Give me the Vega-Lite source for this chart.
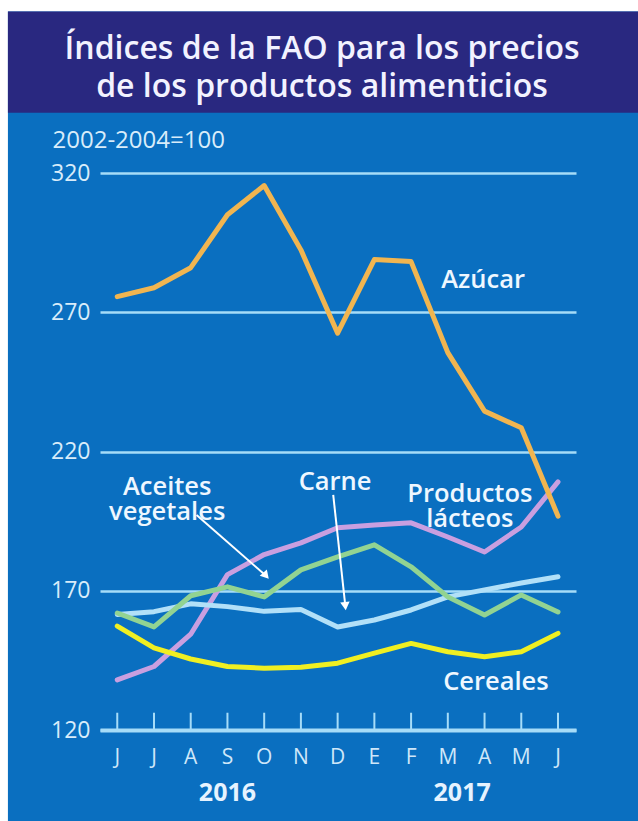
{
  "$schema": "https://vega.github.io/schema/vega-lite/v6.json",
  "width": 476,
  "height": 557,
  "autosize": "none",
  "padding": {"left": 100, "top": 173, "right": 62, "bottom": 91},
  "background": "#0a6fc0",
  "config": {"view": {"stroke": null}, "font": "Open Sans"},
  "datasets": {
    "indices": [
      {"serie": "Productos lácteos", "m": 0, "v": 138.0}, {"serie": "Productos lácteos", "m": 1, "v": 142.8}, {"serie": "Productos lácteos", "m": 2, "v": 154.4}, {"serie": "Productos lácteos", "m": 3, "v": 175.8}, {"serie": "Productos lácteos", "m": 4, "v": 183.0}, {"serie": "Productos lácteos", "m": 5, "v": 187.2}, {"serie": "Productos lácteos", "m": 6, "v": 192.6}, {"serie": "Productos lácteos", "m": 7, "v": 193.6}, {"serie": "Productos lácteos", "m": 8, "v": 194.4}, {"serie": "Productos lácteos", "m": 9, "v": 189.3}, {"serie": "Productos lácteos", "m": 10, "v": 183.9}, {"serie": "Productos lácteos", "m": 11, "v": 192.9}, {"serie": "Productos lácteos", "m": 12, "v": 209.1},
      {"serie": "Carne", "m": 0, "v": 161.5}, {"serie": "Carne", "m": 1, "v": 162.5}, {"serie": "Carne", "m": 2, "v": 165.3}, {"serie": "Carne", "m": 3, "v": 164.3}, {"serie": "Carne", "m": 4, "v": 162.6}, {"serie": "Carne", "m": 5, "v": 163.3}, {"serie": "Carne", "m": 6, "v": 157.0}, {"serie": "Carne", "m": 7, "v": 159.5}, {"serie": "Carne", "m": 8, "v": 163.1}, {"serie": "Carne", "m": 9, "v": 167.8}, {"serie": "Carne", "m": 10, "v": 170.3}, {"serie": "Carne", "m": 11, "v": 172.8}, {"serie": "Carne", "m": 12, "v": 175.0},
      {"serie": "Aceites vegetales", "m": 0, "v": 162.0}, {"serie": "Aceites vegetales", "m": 1, "v": 157.0}, {"serie": "Aceites vegetales", "m": 2, "v": 168.2}, {"serie": "Aceites vegetales", "m": 3, "v": 171.4}, {"serie": "Aceites vegetales", "m": 4, "v": 167.8}, {"serie": "Aceites vegetales", "m": 5, "v": 177.5}, {"serie": "Aceites vegetales", "m": 6, "v": 182.2}, {"serie": "Aceites vegetales", "m": 7, "v": 186.5}, {"serie": "Aceites vegetales", "m": 8, "v": 178.6}, {"serie": "Aceites vegetales", "m": 9, "v": 167.8}, {"serie": "Aceites vegetales", "m": 10, "v": 161.3}, {"serie": "Aceites vegetales", "m": 11, "v": 168.5}, {"serie": "Aceites vegetales", "m": 12, "v": 162.4},
      {"serie": "Cereales", "m": 0, "v": 157.3}, {"serie": "Cereales", "m": 1, "v": 149.5}, {"serie": "Cereales", "m": 2, "v": 145.5}, {"serie": "Cereales", "m": 3, "v": 142.8}, {"serie": "Cereales", "m": 4, "v": 142.2}, {"serie": "Cereales", "m": 5, "v": 142.5}, {"serie": "Cereales", "m": 6, "v": 144.0}, {"serie": "Cereales", "m": 7, "v": 147.6}, {"serie": "Cereales", "m": 8, "v": 151.1}, {"serie": "Cereales", "m": 9, "v": 148.1}, {"serie": "Cereales", "m": 10, "v": 146.3}, {"serie": "Cereales", "m": 11, "v": 148.1}, {"serie": "Cereales", "m": 12, "v": 154.7},
      {"serie": "Azúcar", "m": 0, "v": 275.6}, {"serie": "Azúcar", "m": 1, "v": 278.8}, {"serie": "Azúcar", "m": 2, "v": 286.0}, {"serie": "Azúcar", "m": 3, "v": 305.0}, {"serie": "Azúcar", "m": 4, "v": 315.5}, {"serie": "Azúcar", "m": 5, "v": 292.4}, {"serie": "Azúcar", "m": 6, "v": 262.5}, {"serie": "Azúcar", "m": 7, "v": 288.9}, {"serie": "Azúcar", "m": 8, "v": 288.2}, {"serie": "Azúcar", "m": 9, "v": 255.5}, {"serie": "Azúcar", "m": 10, "v": 234.5}, {"serie": "Azúcar", "m": 11, "v": 228.5}, {"serie": "Azúcar", "m": 12, "v": 196.8}
    ],
    "etiquetas": [
      {"texto": "Azúcar", "m": 9.96, "v": 281.7},
      {"texto": "Aceites\nvegetales", "m": 1.36, "v": 207.1},
      {"texto": "Carne", "m": 5.93, "v": 209.1},
      {"texto": "Productos\nlácteos", "m": 9.6, "v": 204.6},
      {"texto": "Cereales", "m": 10.31, "v": 137.2}
    ],
    "titulo": [
      {"texto": "Índices de la FAO para los precios\nde los productos alimenticios", "m": 5.575, "v": 361.06}
    ],
    "flechas": [
      {"serie": "Aceites vegetales", "m": 2.16, "v": 197.2, "m2": 4.05, "v2": 175.4, "angulo": 138.5},
      {"serie": "Carne", "m": 5.88, "v": 204.4, "m2": 6.21, "v2": 164.5, "angulo": 174}
    ],
    "meses": [
      {"m": 0, "mes": "J", "v": 109.9}, {"m": 1, "mes": "J", "v": 109.9}, {"m": 2, "mes": "A", "v": 109.9}, {"m": 3, "mes": "S", "v": 109.9}, {"m": 4, "mes": "O", "v": 109.9}, {"m": 5, "mes": "N", "v": 109.9}, {"m": 6, "mes": "D", "v": 109.9}, {"m": 7, "mes": "E", "v": 109.9}, {"m": 8, "mes": "F", "v": 109.9}, {"m": 9, "mes": "M", "v": 109.9}, {"m": 10, "mes": "A", "v": 109.9}, {"m": 11, "mes": "M", "v": 109.9}, {"m": 12, "mes": "J", "v": 109.9}
    ],
    "anios": [
      {"anio": "2016", "m": 3.0, "v": 97.4},
      {"anio": "2017", "m": 9.39, "v": 97.4}
    ]
  },
  "layer": [
    {
      "data": {"name": "meses"},
      "mark": {"type": "rule", "color": "#a6dcf8", "strokeWidth": 2},
      "encoding": {
        "x": {"field": "m", "type": "quantitative",
          "scale": {"domain": [-0.47, 12.49], "nice": false, "zero": false},
          "axis": {
          "values": [0, 1, 2, 3, 4, 5, 6, 7, 8, 9, 10, 11, 12],
          "labels": false,
          "ticks": false, "grid": false, "title": null,
          "domain": true, "domainColor": "#a6dcf8", "domainWidth": 4
        }},
        "y": {"datum": 120, "type": "quantitative",
          "scale": {"domain": [120, 320], "nice": false, "zero": false},
          "axis": {
          "values": [120, 170, 220, 270, 320],
          "labelOverlap": false,
          "grid": true, "gridColor": "#a6dcf8", "gridWidth": 2.5,
          "domain": false, "ticks": false,
          "labelColor": "#d8ecfa", "labelFontSize": 23, "labelPadding": 10,
          "title": "2002-2004=100", "titleAngle": 0, "titleAlign": "left", "titleBaseline": "middle",
          "titleX": -48, "titleY": -33, "titleFontSize": 24, "titleFontWeight": "normal", "titleColor": "#d8ecfa"
        }},
        "y2": {"datum": 126.2}
      }
    },
    {
      "data": {"values": [{}]},
      "mark": {"type": "rect", "color": "#ffffff"},
      "encoding": {
        "x": {"datum": -3.3, "type": "quantitative"},
        "x2": {"datum": -2.977},
        "y": {"datum": 87, "type": "quantitative"},
        "y2": {"datum": 383}
      }
    },
    {
      "data": {"values": [{}]},
      "mark": {"type": "rect", "color": "#ffffff"},
      "encoding": {
        "x": {"datum": -3.3, "type": "quantitative"},
        "x2": {"datum": 14.3},
        "y": {"datum": 377.95, "type": "quantitative"},
        "y2": {"datum": 383}
      }
    },
    {
      "data": {"values": [{}]},
      "mark": {"type": "rect", "color": "#292880"},
      "encoding": {
        "x": {"datum": -2.977, "type": "quantitative"},
        "x2": {"datum": 14.3},
        "y": {"datum": 341.66, "type": "quantitative"},
        "y2": {"datum": 377.95}
      }
    },
    {
      "data": {"name": "titulo"},
      "mark": {"type": "text", "color": "#f2f2ff", "fontSize": 32, "fontWeight": 600, "lineBreak": "\n", "lineHeight": 38, "align": "center", "baseline": "alphabetic"},
      "encoding": {
        "x": {"field": "m", "type": "quantitative"},
        "y": {"field": "v", "type": "quantitative"},
        "text": {"field": "texto"}
      }
    },
    {
      "data": {"name": "meses"},
      "mark": {"type": "text", "color": "#cfe7f9", "fontSize": 21, "fontWeight": 400, "align": "center", "baseline": "middle"},
      "encoding": {
        "x": {"field": "m", "type": "quantitative"},
        "y": {"field": "v", "type": "quantitative"},
        "text": {"field": "mes"}
      }
    },
    {
      "data": {"name": "indices"},
      "mark": {"type": "line", "strokeWidth": 5, "strokeJoin": "round", "strokeCap": "round"},
      "encoding": {
        "x": {"field": "m", "type": "quantitative"},
        "y": {"field": "v", "type": "quantitative"},
        "color": {"field": "serie", "type": "nominal", "legend": null,
          "scale": {"domain": ["Productos lácteos", "Carne", "Aceites vegetales", "Cereales", "Azúcar"],
                    "range": ["#c99fe0", "#b2e0f8", "#92d392", "#f0ef22", "#f1b550"]}}
      }
    },
    {
      "data": {"name": "flechas"},
      "mark": {"type": "rule", "color": "#ffffff", "strokeWidth": 2},
      "encoding": {
        "x": {"field": "m", "type": "quantitative"},
        "y": {"field": "v", "type": "quantitative"},
        "x2": {"field": "m2"},
        "y2": {"field": "v2"}
      }
    },
    {
      "data": {"name": "flechas"},
      "mark": {"type": "point", "shape": "triangle-up", "filled": true, "color": "#ffffff", "size": 90, "opacity": 1},
      "encoding": {
        "x": {"field": "m2", "type": "quantitative"},
        "y": {"field": "v2", "type": "quantitative"},
        "angle": {"field": "angulo", "type": "quantitative", "scale": null}
      }
    },
    {
      "data": {"name": "etiquetas"},
      "mark": {"type": "text", "color": "#eef7ff", "fontSize": 25.5, "fontWeight": 600, "lineBreak": "\n", "lineHeight": 25, "align": "center", "baseline": "middle"},
      "encoding": {
        "x": {"field": "m", "type": "quantitative"},
        "y": {"field": "v", "type": "quantitative"},
        "text": {"field": "texto"}
      }
    },
    {
      "data": {"name": "anios"},
      "mark": {"type": "text", "color": "#e6f3ff", "fontSize": 25, "fontWeight": 700, "align": "center", "baseline": "middle"},
      "encoding": {
        "x": {"field": "m", "type": "quantitative"},
        "y": {"field": "v", "type": "quantitative"},
        "text": {"field": "anio"}
      }
    }
  ]
}
